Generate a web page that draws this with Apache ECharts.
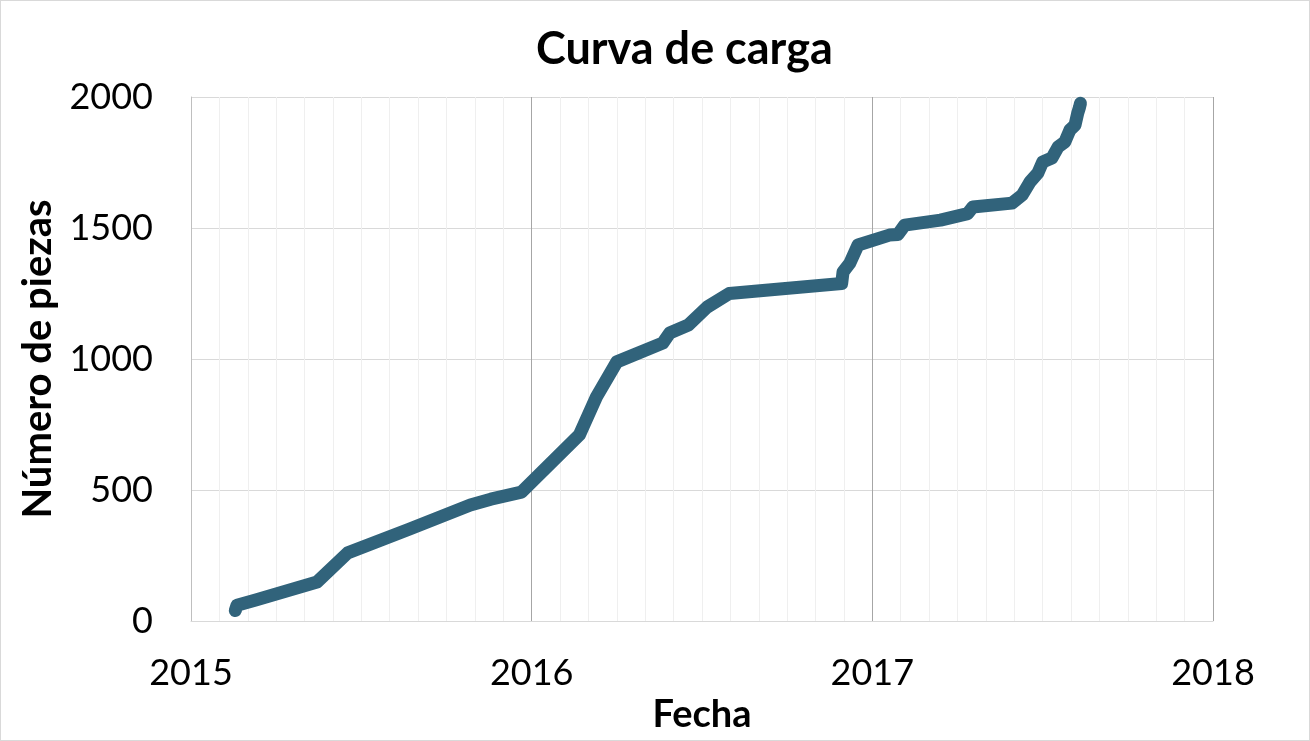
<!DOCTYPE html>
<html>
<head>
<meta charset="utf-8">
<script src="https://cdn.jsdelivr.net/npm/echarts@6/dist/echarts.min.js"></script>
<style>
html,body{margin:0;padding:0;background:#fff;}
#c{width:1308px;height:739px;border:1px solid #d9d9d9;}
</style>
</head>
<body>
<div id="c"></div>
<script>
// Fecha en años decimales
const fechas = [2015.13, 2015.135, 2015.19, 2015.37, 2015.46, 2015.64, 2015.82, 2015.88, 2015.97, 2016.14, 2016.19, 2016.25, 2016.385, 2016.405, 2016.46, 2016.515, 2016.58, 2016.91, 2016.914, 2016.934, 2016.958, 2017.05, 2017.075, 2017.095, 2017.20, 2017.28, 2017.295, 2017.41, 2017.44, 2017.463, 2017.486, 2017.50, 2017.527, 2017.545, 2017.565, 2017.58, 2017.595, 2017.603, 2017.608, 2017.611];
const piezas = [40, 60, 80, 149, 260, 350, 443, 465, 492, 710, 855, 989, 1061, 1099, 1130, 1198, 1250, 1288, 1332, 1366, 1435, 1473, 1475, 1511, 1530, 1555, 1580, 1595, 1626, 1676, 1710, 1752, 1767, 1809, 1828, 1874, 1893, 1939, 1960, 1976];
const yTicks = [0, 500, 1000, 1500, 2000];
const xTicks = [2015, 2016, 2017, 2018];

const data = fechas.map((f, i) => [f, piezas[i]]);
const chart = echarts.init(document.getElementById('c'));
const font = 'Lato, "Open Sans", sans-serif';
chart.setOption({
  animation: false,
  title: {
    text: 'Curva de carga', left: 530, top: 21,
    textStyle: {fontFamily: font, fontSize: 45, fontWeight: 'bold', color: '#000'}
  },
  grid: {left: 190, right: 96, top: 96, bottom: 119},
  xAxis: {
    type: 'value', min: xTicks[0], max: xTicks[xTicks.length - 1], interval: 1,
    name: 'Fecha', nameLocation: 'middle', nameGap: 73,
    nameTextStyle: {fontFamily: font, fontSize: 38, fontWeight: 'bold', color: '#000'},
    axisLine: {show: true, lineStyle: {color: '#d9d9d9', width: 1}},
    axisTick: {show: false},
    axisLabel: {fontFamily: font, fontSize: 36, color: '#000', margin: 34, formatter: v => String(v)},
    splitLine: {show: true, lineStyle: {color: '#a6a6a6', width: 1}},
    minorTick: {show: false, splitNumber: 12},
    minorSplitLine: {show: true, lineStyle: {color: '#efefef', width: 1}}
  },
  yAxis: {
    type: 'value', min: yTicks[0], max: yTicks[yTicks.length - 1], interval: 500,
    name: 'Número de piezas', nameLocation: 'middle', nameGap: 115,
    nameTextStyle: {fontFamily: font, fontSize: 40, fontWeight: 'bold', color: '#000'},
    axisLine: {show: true, lineStyle: {color: '#bfbfbf', width: 1}},
    axisTick: {show: false},
    axisLabel: {fontFamily: font, fontSize: 36, color: '#000', margin: 38, formatter: v => String(v)},
    splitLine: {show: true, lineStyle: {color: '#d9d9d9', width: 1}}
  },
  series: [{
    type: 'line', data: data, showSymbol: false, clip: true,
    lineStyle: {color: '#31637b', width: 13, cap: 'round', join: 'round'},
    itemStyle: {color: '#31637b'}
  }]
});
</script>
</body>
</html>
